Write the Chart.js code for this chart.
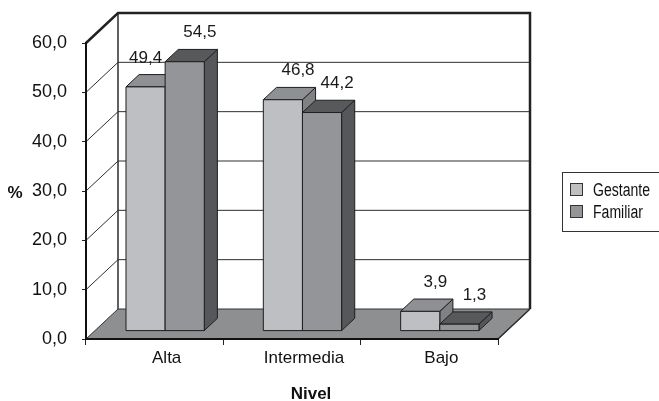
<html>
<head>
  <script src="https://cdn.jsdelivr.net/npm/chart.js@4.4.0/dist/chart.umd.min.js"></script>
  <style>
    body { margin: 0; background: #fff; }
  </style>
</head>
<body>
  <canvas id="chart" width="659" height="401"></canvas>

  <script>
    var categories = ["Alta", "Intermedia", "Bajo"];
    var seriesNames = ["Gestante", "Familiar"];
    var gestante = [49.4, 46.8, 3.9];
    var familiar = [54.5, 44.2, 1.3];
    var yTicks = [0, 10, 20, 30, 40, 50, 60];

    // depth of the 3d box in pixels
    var DX = 32, DY = 30;
    // bars sit between these depths (0 = front edge, 1 = back wall)
    var D0 = 0.28, D1 = 0.69;

    var faceColors = [
      { front: "#bebfc3", top: "#8f9093", side: "#808184" },
      { front: "#949598", top: "#58595b", side: "#56575a" }
    ];
    var FONT = "'Liberation Sans', Arial, sans-serif";

    function fmt(v) {
      return v.toFixed(1).replace(".", ",");
    }

    function poly(ctx, pts, fill) {
      ctx.beginPath();
      ctx.moveTo(pts[0][0], pts[0][1]);
      for (var i = 1; i < pts.length; i++) ctx.lineTo(pts[i][0], pts[i][1]);
      ctx.closePath();
      ctx.fillStyle = fill;
      ctx.fill();
      ctx.stroke();
    }

    // floor, back wall and side wall
    var wallsPlugin = {
      id: "walls",
      beforeDraw: function(chart) {
        var ctx = chart.ctx, a = chart.chartArea, y = chart.scales.y;
        var l = a.left, r = a.right;
        var b = y.getPixelForValue(yTicks[0]);
        var t = y.getPixelForValue(yTicks[yTicks.length - 1]);
        ctx.save();
        ctx.strokeStyle = "#333";
        ctx.lineWidth = 1;
        poly(ctx, [[l, b], [r, b], [r + DX, b - DY], [l + DX, b - DY]], "#8e8f91");

        ctx.strokeStyle = "#2e2e2e";
        yTicks.forEach(function(v, i) {
          if (i === 0 || i === yTicks.length - 1) return;
          var py = y.getPixelForValue(v);
          ctx.beginPath();
          ctx.moveTo(l, py);
          ctx.lineTo(l + DX, py - DY);
          ctx.lineTo(r + DX, py - DY);
          ctx.stroke();
        });

        ctx.lineWidth = 1.5;
        ctx.beginPath();
        ctx.moveTo(l + DX, t - DY);
        ctx.lineTo(l + DX, b - DY);
        ctx.moveTo(r + DX, b - DY);
        ctx.lineTo(r, b);
        ctx.stroke();

        ctx.lineWidth = 2.5;
        ctx.strokeStyle = "#222";
        ctx.beginPath();
        ctx.moveTo(l, t);
        ctx.lineTo(l + DX, t - DY);
        ctx.lineTo(r + DX, t - DY);
        ctx.lineTo(r + DX, b - DY);
        ctx.stroke();
        ctx.restore();
      }
    };

    // the bars are drawn as boxes from the bar elements the library laid out
    var bars3dPlugin = {
      id: "bars3d",
      beforeDatasetsDraw: function(chart) {
        var ctx = chart.ctx, y = chart.scales.y;
        var base = y.getPixelForValue(0);
        var ox = (D1 - D0) * DX, oy = (D1 - D0) * DY;
        var boxes = [];
        ctx.save();
        ctx.lineWidth = 1;
        ctx.strokeStyle = "#1e1e1e";
        for (var i = 0; i < categories.length; i++) {
          boxes[i] = [];
          for (var s = 0; s < chart.data.datasets.length; s++) {
            var el = chart.getDatasetMeta(s).data[i];
            var v = chart.data.datasets[s].data[i];
            var x0 = el.x - el.width / 2 + D0 * DX + 1.5;
            var x1 = el.x + el.width / 2 + D0 * DX + 1.5;
            var yt = y.getPixelForValue(v) - D0 * DY;
            var yb = base - D0 * DY;
            var c = faceColors[s];
            poly(ctx, [[x1, yt], [x1 + ox, yt - oy], [x1 + ox, yb - oy], [x1, yb]], c.side);
            poly(ctx, [[x0, yt], [x1, yt], [x1 + ox, yt - oy], [x0 + ox, yt - oy]], c.top);
            poly(ctx, [[x0, yt], [x1, yt], [x1, yb], [x0, yb]], c.front);
            boxes[i].push({ x0: x0, x1: x1, top: yt - oy, v: v });
          }
        }

        // value labels
        ctx.font = "17px " + FONT;
        ctx.fillStyle = "#1a1a1a";
        ctx.textAlign = "center";
        ctx.textBaseline = "alphabetic";
        boxes.forEach(function(row) {
          row.forEach(function(bx, s) {
            var txt = fmt(bx.v);
            var w = ctx.measureText(txt).width;
            var lx = (bx.x0 + bx.x1) / 2 + ox + 2;
            var ly = bx.top - 12;
            var next = row[s + 1];
            if (next && lx + w / 2 > next.x0 && ly > next.top) {
              lx = next.x0 - 3 - w / 2;
            }
            ctx.fillText(txt, lx, ly);
          });
        });
        ctx.restore();
        return false;
      }
    };

    // axis titles and legend
    var textPlugin = {
      id: "texts",
      afterDraw: function(chart) {
        var ctx = chart.ctx;
        ctx.save();
        ctx.fillStyle = "#111";
        ctx.textAlign = "center";
        ctx.textBaseline = "alphabetic";
        ctx.font = "bold 17px " + FONT;
        ctx.fillText("%", 15, 198);
        ctx.fillText("Nivel", 311, 399);

        ctx.strokeStyle = "#333";
        ctx.lineWidth = 1;
        ctx.strokeRect(562.5, 172.5, 120, 59);
        ctx.textAlign = "left";
        ctx.font = "18px " + FONT;
        seriesNames.forEach(function(name, s) {
          var top = 183.5 + s * 22;
          ctx.fillStyle = faceColors[s].front;
          ctx.fillRect(570.5, top, 12, 12);
          ctx.strokeRect(570.5, top, 12, 12);
          ctx.save();
          ctx.translate(593, top + 12);
          ctx.scale(0.78, 1);
          ctx.fillStyle = "#111";
          ctx.fillText(name, 0, 0);
          ctx.restore();
        });
        ctx.restore();
      }
    };

    new Chart(document.getElementById("chart"), {
      type: "bar",
      data: {
        labels: categories,
        datasets: [
          { label: seriesNames[0], data: gestante, backgroundColor: faceColors[0].front },
          { label: seriesNames[1], data: familiar, backgroundColor: faceColors[1].front }
        ]
      },
      options: {
        responsive: false,
        animation: false,
        devicePixelRatio: 1,
        categoryPercentage: 0.57,
        barPercentage: 1,
        layout: { padding: { top: 43, right: 161, left: 0, bottom: 0 } },
        plugins: {
          legend: { display: false },
          tooltip: { enabled: false }
        },
        scales: {
          x: {
            grid: { drawOnChartArea: false, tickLength: 6, color: "#222", offset: true },
            border: { color: "#111", width: 2 },
            ticks: {
              color: "#111",
              font: { family: FONT, size: 17 },
              labelOffset: 12,
              padding: 3,
              maxRotation: 0
            },
            afterFit: function(s) { s.height = 62; }
          },
          y: {
            min: yTicks[0],
            max: yTicks[yTicks.length - 1],
            grid: { drawOnChartArea: false, tickLength: 4, color: "#222" },
            border: { color: "#111", width: 2 },
            ticks: {
              stepSize: 10,
              color: "#111",
              font: { family: FONT, size: 18 },
              padding: 15,
              callback: function(v) { return fmt(v); }
            },
            afterFit: function(s) { s.width = 86; }
          }
        }
      },
      plugins: [wallsPlugin, bars3dPlugin, textPlugin]
    });
  </script>
</body>
</html>
